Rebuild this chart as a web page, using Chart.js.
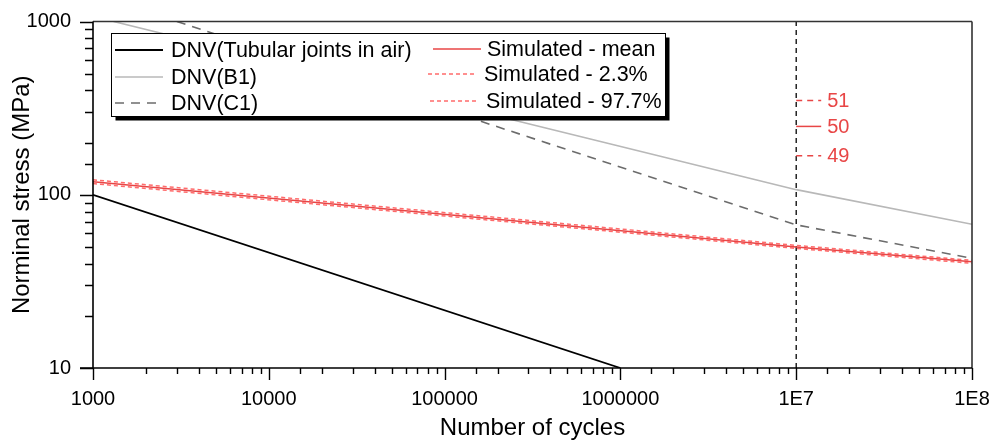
<!DOCTYPE html>
<html>
<head>
<meta charset="utf-8">
<script src="https://cdn.jsdelivr.net/npm/chart.js@4.4.0/dist/chart.umd.min.js"></script>
<style>
  html, body { margin: 0; padding: 0; background: #fff; }
  #wrap { width: 994px; height: 440px; }
</style>
</head>
<body>
<div id="wrap"><canvas id="c" width="994" height="440"></canvas></div>
<script>
// Axis ranges and tick labels
const xTickValues = [1e3, 1e4, 1e5, 1e6, 1e7, 1e8];
const xTickLabels = ['1000', '10000', '100000', '1000000', '1E7', '1E8'];
const yTickValues = [10, 100, 1000];
const yTickLabels = ['10', '100', '1000'];

// S-N curves: cycles (N) and nominal stress (MPa)
const tubularN = [1e3, 1e6];
const tubularS = [100, 10];
const b1N = [1309, 1e7, 1e8];
const b1S = [1000, 107, 67.5];
const c1N = [3000, 1e7, 1e8];
const c1S = [1000, 67, 43];
const simN = [1e3, 1e7, 1e8];
const simMean = [119, 50, 41];
const simLow = [116, 49, 40.2];
const simHigh = [122, 51, 41.8];

// Reference line at 1E7 cycles and the value call-outs next to it
const refN = 1e7;
const calloutValues = [51, 50, 49];
const calloutY = [350, 248, 168];
const calloutDash = [[6, 5], [], [6, 5]];

const FONT = "'Liberation Sans', Arial, sans-serif";
const RED = '#e84646';
const RED_LIGHT = '#ff6b6b';

const pts = (xs, ys) => xs.map((x, i) => ({ x, y: ys[i] }));

const datasets = [
  { label: 'DNV(Tubular joints in air)', data: pts(tubularN, tubularS), borderColor: '#000', borderWidth: 1.8, borderDash: [] },
  { label: 'DNV(B1)', data: pts(b1N, b1S), borderColor: '#b8b8b8', borderWidth: 1.6, borderDash: [] },
  { label: 'DNV(C1)', data: pts(c1N, c1S), borderColor: '#6c6c6c', borderWidth: 1.6, borderDash: [9, 7] },
  { label: 'Simulated - mean', data: pts(simN, simMean), borderColor: RED, borderWidth: 1.5, borderDash: [] },
  { label: 'Simulated - 2.3%', data: pts(simN, simLow), borderColor: RED_LIGHT, borderWidth: 1.5, borderDash: [4, 3] },
  { label: 'Simulated - 97.7%', data: pts(simN, simHigh), borderColor: RED_LIGHT, borderWidth: 1.5, borderDash: [4, 3] },
  { label: '', data: [{ x: refN, y: 10 }, { x: refN, y: 1000 }], borderColor: '#000', borderWidth: 1.3, borderDash: [5, 4] }
].map(d => Object.assign({ showLine: true, pointRadius: 0, fill: false, tension: 0 }, d));

// Legend layout: [sample start x, sample length, text x, row y]
const legendSlots = [
  [115, 48, 171, 50],
  [115, 48, 171, 77],
  [115, 48, 171, 103],
  [433, 48, 487, 49],
  [428, 49, 484, 74],
  [430, 48, 486, 101]
];

const isDecade = v => Math.abs(Math.log10(v) - Math.round(Math.log10(v))) < 1e-9;

const decorPlugin = {
  id: 'decor',
  afterDatasetsDraw(chart) {
    const { ctx, chartArea: a, scales: { x, y } } = chart;
    ctx.save();

    // Frame
    ctx.lineCap = 'butt';
    ctx.strokeStyle = '#333';
    ctx.lineWidth = 1.6;
    ctx.beginPath();
    ctx.moveTo(a.left, a.top); ctx.lineTo(a.right, a.top);
    ctx.moveTo(a.right, a.top); ctx.lineTo(a.right, a.bottom);
    ctx.stroke();
    ctx.strokeStyle = '#000';
    ctx.beginPath();
    ctx.moveTo(a.left, a.top); ctx.lineTo(a.left, a.bottom);
    ctx.moveTo(a.left - 13, a.bottom); ctx.lineTo(a.right, a.bottom);
    ctx.stroke();

    // Tick marks (outward, long for decades)
    ctx.lineWidth = 1.4;
    ctx.beginPath();
    x.ticks.forEach(t => {
      const px = Math.round(x.getPixelForValue(t.value)) + 0.5;
      const len = isDecade(t.value) ? 12 : 6;
      ctx.moveTo(px, a.bottom); ctx.lineTo(px, a.bottom + len);
    });
    y.ticks.forEach(t => {
      const py = Math.round(y.getPixelForValue(t.value)) + 0.5;
      const len = isDecade(t.value) ? 13 : 8;
      ctx.moveTo(a.left, py); ctx.lineTo(a.left - len, py);
    });
    ctx.stroke();

    // Value call-outs at the reference line
    const x0 = x.getPixelForValue(refN);
    ctx.font = `20px ${FONT}`;
    ctx.textBaseline = 'middle';
    ctx.textAlign = 'left';
    calloutValues.forEach((v, i) => {
      const py = y.getPixelForValue(calloutY[i]);
      ctx.strokeStyle = RED;
      ctx.lineWidth = 1.5;
      ctx.setLineDash(calloutDash[i]);
      ctx.beginPath();
      ctx.moveTo(x0, py); ctx.lineTo(x0 + 25, py);
      ctx.stroke();
      ctx.setLineDash([]);
      ctx.fillStyle = RED;
      ctx.fillText(String(v), x0 + 31, py + 1);
    });

    // Legend box with drop shadow
    const bx = 111.5, by = 33.5, bw = 554, bh = 83;
    ctx.fillStyle = '#000';
    ctx.fillRect(bx + 4, by + 4, bw, bh);
    ctx.fillStyle = '#fff';
    ctx.fillRect(bx, by, bw, bh);
    ctx.strokeStyle = '#000';
    ctx.lineWidth = 1;
    ctx.strokeRect(bx, by, bw, bh);

    ctx.font = `21.5px ${FONT}`;
    ctx.fillStyle = '#000';
    legendSlots.forEach((s, i) => {
      const ds = chart.data.datasets[i];
      ctx.strokeStyle = ds.borderColor;
      ctx.lineWidth = ds.borderWidth;
      ctx.setLineDash(ds.borderDash);
      ctx.beginPath();
      ctx.moveTo(s[0], s[3]); ctx.lineTo(s[0] + s[1], s[3]);
      ctx.stroke();
      ctx.setLineDash([]);
      ctx.fillText(ds.label, s[2], s[3] + 1);
    });

    ctx.restore();
  }
};

new Chart(document.getElementById('c'), {
  type: 'scatter',
  data: { datasets },
  options: {
    responsive: false,
    animation: false,
    devicePixelRatio: 1,
    layout: { padding: { top: 21.5, right: 22, left: 0, bottom: 0 } },
    plugins: { legend: { display: false }, tooltip: { enabled: false } },
    scales: {
      x: {
        type: 'logarithmic',
        min: xTickValues[0],
        max: xTickValues[xTickValues.length - 1],
        grid: { display: false, drawTicks: false },
        border: { display: false },
        ticks: {
          autoSkip: false, maxRotation: 0, padding: 19, color: '#000',
          font: { family: FONT, size: 20 },
          callback: v => {
            const i = xTickValues.findIndex(t => Math.abs(t - v) / t < 1e-9);
            return i >= 0 ? xTickLabels[i] : '';
          }
        },
        title: {
          display: true, text: 'Number of cycles', color: '#000',
          font: { family: FONT, size: 24, lineHeight: 1.0 }, padding: { top: 0, bottom: 0 }
        },
        afterFit: s => { s.height = 72; s.paddingLeft = 0; s.paddingRight = 0; }
      },
      y: {
        type: 'logarithmic',
        min: yTickValues[0],
        max: yTickValues[yTickValues.length - 1],
        grid: { display: false, drawTicks: false },
        border: { display: false },
        ticks: {
          autoSkip: false, padding: 22, color: '#000',
          font: { family: FONT, size: 20 },
          callback: v => {
            const i = yTickValues.findIndex(t => Math.abs(t - v) / t < 1e-9);
            return i >= 0 ? yTickLabels[i] : '';
          }
        },
        title: {
          display: true, text: 'Norminal stress (MPa)', color: '#000',
          font: { family: FONT, size: 24, lineHeight: 1.2 }, padding: { top: 8, bottom: 0 }
        },
        afterFit: s => { s.width = 93; s.paddingTop = 0; s.paddingBottom = 0; }
      }
    }
  },
  plugins: [decorPlugin]
});
</script>
</body>
</html>
